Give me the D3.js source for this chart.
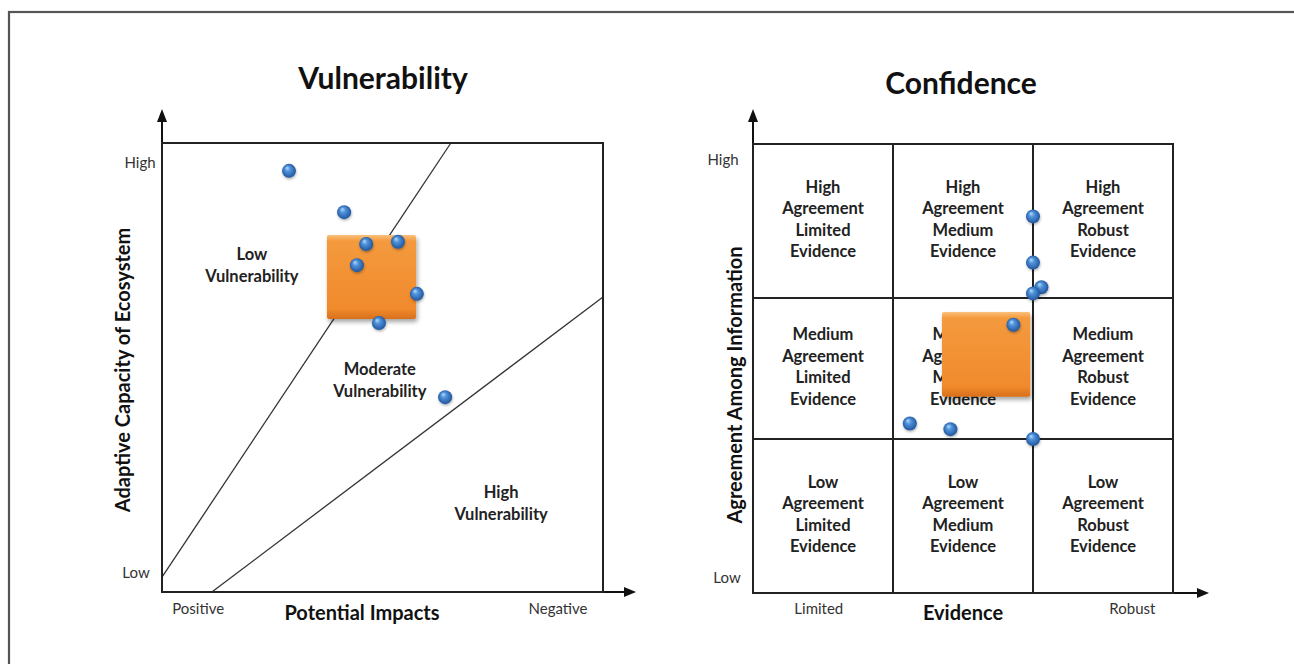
<!DOCTYPE html>
<html>
<head>
<meta charset="utf-8">
<script src="https://cdn.jsdelivr.net/npm/d3@7"></script>
<style>
  body { margin: 0; background: #fff; }
  svg { display: block; font-family: Lato, "Open Sans", sans-serif; }
</style>
</head>
<body>
<svg id="chart" width="1294" height="664"></svg>
<script>
// ---- data ----
// vulnerability panel: potential impacts (0 positive .. 10 negative), adaptive capacity (0 low .. 10 high)
const vulnX = [2.88, 4.13, 4.63, 5.35, 4.42, 5.78, 4.92, 6.42];
const vulnY = [9.38, 8.46, 7.75, 7.80, 7.28, 6.64, 5.99, 4.34];
const vulnBoundaries = [[0, 0.33, 6.55, 10], [1.13, 0, 10, 6.57]];
const vulnRange = [3.74, 5.76, 6.08, 7.95]; // x0, x1, y0, y1
const vulnRegions = [
  { name: ["Low", "Vulnerability"], x: 2.04, y: 7.28 },
  { name: ["Moderate", "Vulnerability"], x: 4.94, y: 4.72 },
  { name: ["High", "Vulnerability"], x: 7.69, y: 1.98 }
];

// confidence panel: evidence (0..3), agreement (0..3)
const confX = [2.0, 2.0, 2.06, 2.0, 1.86, 1.12, 1.41, 2.0];
const confY = [2.53, 2.23, 2.07, 2.03, 1.81, 1.11, 1.07, 1.0];
const confRange = [1.35, 1.98, 1.30, 1.90];
const agreementLevels = ["Low", "Medium", "High"];
const evidenceLevels = ["Limited", "Medium", "Robust"];

const svg = d3.select("#chart");

// outer frame
svg.append("rect")
  .attr("x", 9).attr("y", 12)
  .attr("width", 1400).attr("height", 800)
  .attr("fill", "none").attr("stroke", "#555").attr("stroke-width", 2.2);

// ---- defs ----
const defs = svg.append("defs");
const ball = defs.append("radialGradient").attr("id", "ball")
  .attr("cx", "50%").attr("cy", "50%").attr("r", "55%")
  .attr("fx", "35%").attr("fy", "28%");
ball.append("stop").attr("offset", "0%").attr("stop-color", "#b8dcfb");
ball.append("stop").attr("offset", "35%").attr("stop-color", "#4f93db");
ball.append("stop").attr("offset", "100%").attr("stop-color", "#1d4f96");

const orange = defs.append("linearGradient").attr("id", "orange")
  .attr("x1", 0).attr("y1", 0).attr("x2", 0).attr("y2", 1);
orange.append("stop").attr("offset", "0%").attr("stop-color", "#f9c07c");
orange.append("stop").attr("offset", "7%").attr("stop-color", "#f49a3e");
orange.append("stop").attr("offset", "88%").attr("stop-color", "#f08a2c");
orange.append("stop").attr("offset", "100%").attr("stop-color", "#d8701c");

const shadow = defs.append("filter").attr("id", "shadow")
  .attr("x", "-20%").attr("y", "-20%").attr("width", "150%").attr("height", "150%");
shadow.append("feDropShadow").attr("dx", 1.5).attr("dy", 3).attr("stdDeviation", 2)
  .attr("flood-color", "#000").attr("flood-opacity", 0.35);

const ballShadow = defs.append("filter").attr("id", "ballShadow")
  .attr("x", "-50%").attr("y", "-50%").attr("width", "200%").attr("height", "200%");
ballShadow.append("feDropShadow").attr("dx", 0.5).attr("dy", 1.5).attr("stdDeviation", 1)
  .attr("flood-color", "#000").attr("flood-opacity", 0.3);

// ---- helpers ----
function axes(g, x, y, arrowX) {
  const x0 = x.range()[0], y0 = y.range()[0];
  // vertical axis with arrow
  g.append("line").attr("x1", x0).attr("x2", x0).attr("y1", y0).attr("y2", 118)
    .attr("stroke", "#111").attr("stroke-width", 2);
  g.append("path").attr("d", `M${x0 - 5},${122}L${x0},${109}L${x0 + 5},${122}Z`).attr("fill", "#111");
  // horizontal axis with arrow
  g.append("line").attr("x1", x0).attr("x2", arrowX - 8).attr("y1", y0).attr("y2", y0)
    .attr("stroke", "#111").attr("stroke-width", 2);
  g.append("path").attr("d", `M${arrowX - 12},${y0 - 5}L${arrowX},${y0}L${arrowX - 12},${y0 + 5}Z`).attr("fill", "#111");
}

function box(g, x, y) {
  const [xa, xb] = x.range();
  const r = y.range();
  g.append("rect")
    .attr("x", xa).attr("y", r[r.length - 1])
    .attr("width", xb - xa).attr("height", r[0] - r[r.length - 1])
    .attr("fill", "none").attr("stroke", "#222").attr("stroke-width", 2);
}

function balls(g, xs, ys, x, y) {
  g.append("g").selectAll("circle")
    .data(d3.zip(xs, ys))
    .join("circle")
    .attr("cx", d => x(d[0])).attr("cy", d => y(d[1]))
    .attr("r", 7)
    .attr("fill", "url(#ball)")
    .attr("filter", "url(#ballShadow)");
}

function rangeBox(g, r, x, y) {
  g.append("rect")
    .attr("x", x(r[0])).attr("y", y(r[3]))
    .attr("width", x(r[1]) - x(r[0])).attr("height", y(r[2]) - y(r[3]))
    .attr("rx", 2)
    .attr("fill", "url(#orange)")
    .attr("filter", "url(#shadow)");
}

function multiline(g, lines, cx, cy, size, lh) {
  const t = g.append("text")
    .attr("text-anchor", "middle")
    .attr("font-weight", "bold")
    .attr("font-size", size)
    .attr("fill", "#222");
  lines.forEach((s, i) => {
    t.append("tspan").attr("x", cx)
      .attr("y", cy + (i - (lines.length - 1) / 2) * lh)
      .attr("dy", "0.35em").text(s);
  });
}

function tickLabel(g, text, px, py, anchor) {
  g.append("text").attr("x", px).attr("y", py).attr("dy", "0.35em")
    .attr("text-anchor", anchor || "middle")
    .attr("font-size", 15).attr("fill", "#333").text(text);
}

function axisTitle(g, text, transform) {
  g.append("text").attr("transform", transform).attr("dy", "0.35em")
    .attr("text-anchor", "middle").attr("font-size", 20).attr("font-weight", "bold")
    .attr("fill", "#111").text(text);
}

// ---- Vulnerability ----
{
  const g = svg.append("g");
  const x = d3.scaleLinear().domain([0, 10]).range([162, 603]);
  const y = d3.scaleLinear().domain([0, 10]).range([592, 143]);

  g.append("text").attr("x", 383).attr("y", 89).attr("text-anchor", "middle")
    .attr("font-size", 30).attr("font-weight", "bold").attr("fill", "#111").text("Vulnerability");

  g.append("g").selectAll("line")
    .data(vulnBoundaries)
    .join("line")
    .attr("x1", d => x(d[0])).attr("y1", d => y(d[1]))
    .attr("x2", d => x(d[2])).attr("y2", d => y(d[3]))
    .attr("stroke", "#333").attr("stroke-width", 1.3);

  axes(g, x, y, 636);
  box(g, x, y);

  vulnRegions.forEach(r => multiline(g, r.name, x(r.x), y(r.y), 16.5, 21.5));

  rangeBox(g, vulnRange, x, y);
  balls(g, vulnX, vulnY, x, y);

  tickLabel(g, "High", 140, y(9.55));
  tickLabel(g, "Low", 136, y(0.42));
  tickLabel(g, "Positive", x(0.82), 609);
  tickLabel(g, "Negative", x(8.98), 609);

  axisTitle(g, "Potential Impacts", "translate(362,613)");
  axisTitle(g, "Adaptive Capacity of Ecosystem", "translate(123,370) rotate(-90)");
}

// ---- Confidence ----
{
  const g = svg.append("g");
  const x = d3.scaleLinear().domain([0, 3]).range([753, 1173]);
  const y = d3.scaleLinear().domain([0, 1, 2, 3]).range([593, 439, 298, 144]);

  g.append("text").attr("x", 961).attr("y", 94).attr("text-anchor", "middle")
    .attr("font-size", 30).attr("font-weight", "bold").attr("fill", "#111").text("Confidence");

  axes(g, x, y, 1209);

  // grid lines
  g.append("g").selectAll("line").data([1, 2]).join("line")
    .attr("x1", d => x(d)).attr("x2", d => x(d)).attr("y1", y(0)).attr("y2", y(3))
    .attr("stroke", "#222").attr("stroke-width", 2);
  g.append("g").selectAll("line").data([1, 2]).join("line")
    .attr("x1", x(0)).attr("x2", x(3)).attr("y1", d => y(d)).attr("y2", d => y(d))
    .attr("stroke", "#222").attr("stroke-width", 2);
  box(g, x, y);

  agreementLevels.forEach((a, i) => {
    evidenceLevels.forEach((e, j) => {
      multiline(g, [a, "Agreement", e, "Evidence"], x(j + 0.5), y(i + 0.5) - 2, 16.5, 21.5);
    });
  });

  rangeBox(g, confRange, x, y);
  balls(g, confX, confY, x, y);

  tickLabel(g, "High", 723, y(2.9));
  tickLabel(g, "Low", 727, y(0.1));
  tickLabel(g, "Limited", x(0.47), 609);
  tickLabel(g, "Robust", x(2.71), 609);

  axisTitle(g, "Evidence", "translate(963,613)");
  axisTitle(g, "Agreement Among Information", "translate(735,385) rotate(-90)");
}
</script>
</body>
</html>
